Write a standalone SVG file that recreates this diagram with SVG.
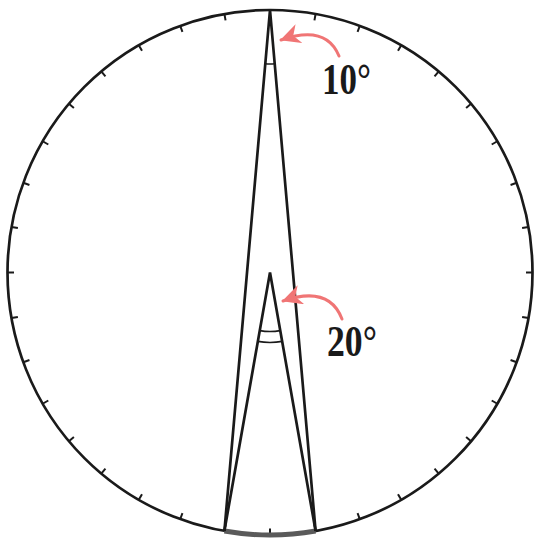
<svg xmlns="http://www.w3.org/2000/svg" xmlns:xlink="http://www.w3.org/1999/xlink" width="535" height="543" viewBox="0 0 535 543">
<style>
.ln{fill:none;stroke:#1a1a1a;stroke-width:2.7;stroke-linejoin:miter}
.tk{stroke:#1a1a1a;stroke-width:2}
.ang{fill:none;stroke:#1a1a1a;stroke-width:1.6}
.arr{fill:none;stroke:#f07575;stroke-width:3;stroke-linecap:round}
.lbl{font-family:"Liberation Serif","DejaVu Serif",serif;font-weight:bold;font-size:44px;fill:#1a1a1a}
</style>
<defs>
<marker id="ah" viewBox="0 0 20 20" refX="19" refY="10" markerWidth="20" markerHeight="20" markerUnits="userSpaceOnUse" orient="auto">
<path d="M0,0 L20,10 L0,20 L6,10 Z" fill="#f07575"/>
</marker>
<line id="tick" x1="270" y1="10" x2="270" y2="16.5" class="tk"/>
</defs>
<rect width="535" height="543" fill="#ffffff"/>
<g id="dial">
<circle cx="270" cy="272.5" r="262.5" class="ln"/>
<g id="ticks">
<use xlink:href="#tick" transform="rotate(0 270 272.5)"/>
<use xlink:href="#tick" transform="rotate(10 270 272.5)"/>
<use xlink:href="#tick" transform="rotate(20 270 272.5)"/>
<use xlink:href="#tick" transform="rotate(30 270 272.5)"/>
<use xlink:href="#tick" transform="rotate(40 270 272.5)"/>
<use xlink:href="#tick" transform="rotate(50 270 272.5)"/>
<use xlink:href="#tick" transform="rotate(60 270 272.5)"/>
<use xlink:href="#tick" transform="rotate(70 270 272.5)"/>
<use xlink:href="#tick" transform="rotate(80 270 272.5)"/>
<use xlink:href="#tick" transform="rotate(90 270 272.5)"/>
<use xlink:href="#tick" transform="rotate(100 270 272.5)"/>
<use xlink:href="#tick" transform="rotate(110 270 272.5)"/>
<use xlink:href="#tick" transform="rotate(120 270 272.5)"/>
<use xlink:href="#tick" transform="rotate(130 270 272.5)"/>
<use xlink:href="#tick" transform="rotate(140 270 272.5)"/>
<use xlink:href="#tick" transform="rotate(150 270 272.5)"/>
<use xlink:href="#tick" transform="rotate(160 270 272.5)"/>
<use xlink:href="#tick" transform="rotate(170 270 272.5)"/>
<use xlink:href="#tick" transform="rotate(180 270 272.5)"/>
<use xlink:href="#tick" transform="rotate(190 270 272.5)"/>
<use xlink:href="#tick" transform="rotate(200 270 272.5)"/>
<use xlink:href="#tick" transform="rotate(210 270 272.5)"/>
<use xlink:href="#tick" transform="rotate(220 270 272.5)"/>
<use xlink:href="#tick" transform="rotate(230 270 272.5)"/>
<use xlink:href="#tick" transform="rotate(240 270 272.5)"/>
<use xlink:href="#tick" transform="rotate(250 270 272.5)"/>
<use xlink:href="#tick" transform="rotate(260 270 272.5)"/>
<use xlink:href="#tick" transform="rotate(270 270 272.5)"/>
<use xlink:href="#tick" transform="rotate(280 270 272.5)"/>
<use xlink:href="#tick" transform="rotate(290 270 272.5)"/>
<use xlink:href="#tick" transform="rotate(300 270 272.5)"/>
<use xlink:href="#tick" transform="rotate(310 270 272.5)"/>
<use xlink:href="#tick" transform="rotate(320 270 272.5)"/>
<use xlink:href="#tick" transform="rotate(330 270 272.5)"/>
<use xlink:href="#tick" transform="rotate(340 270 272.5)"/>
<use xlink:href="#tick" transform="rotate(350 270 272.5)"/>
</g>
<path id="arc-highlight" d="M224.4,531 A262.5,262.5 0 0 0 315.6,531" fill="none" stroke="#5a5a5a" stroke-width="5"/>
</g>
<g id="inscribed-angle">
<polyline class="ln" points="224.4,531 270,10 315.6,531"/>
<path class="ang" d="M265.3,63.8 A54,54 0 0 0 274.7,63.8"/>
</g>
<g id="central-angle">
<polyline class="ln" points="224.4,531 270,272.5 315.6,531"/>
<path class="ang" d="M259.8,330.6 A59,59 0 0 0 280.2,330.6"/>
<path class="ang" d="M257.8,341.4 A70,70 0 0 0 282.2,341.4"/>
</g>
<g id="connectors">
<path class="arr" d="M339,56 Q326,24 281,40" marker-end="url(#ah)"/>
<path class="arr" d="M342,319 Q329,285 283,301" marker-end="url(#ah)"/>
</g>
<g id="labels">
<text class="lbl" x="322" y="94" textLength="49" lengthAdjust="spacingAndGlyphs">10°</text>
<text class="lbl" x="327" y="356" textLength="50" lengthAdjust="spacingAndGlyphs">20°</text>
</g>
</svg>
